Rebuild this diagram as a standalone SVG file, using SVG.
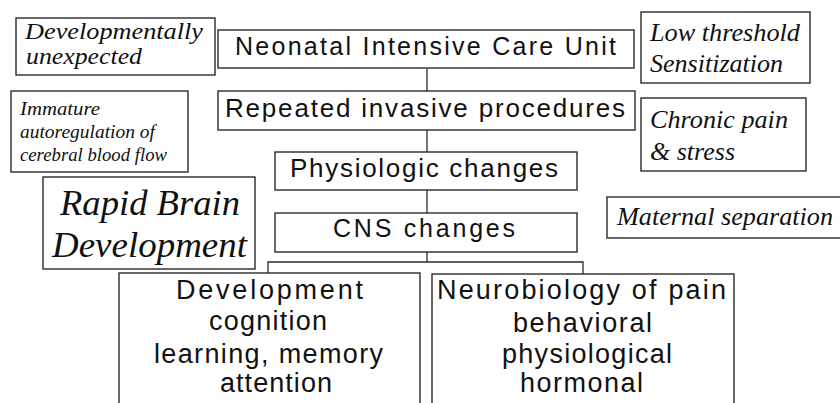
<svg xmlns="http://www.w3.org/2000/svg" width="840" height="403" viewBox="0 0 840 403">
<style>
rect{fill:#fff;stroke:#2a2a2a;stroke-width:1.4}
.s{font-family:"Liberation Sans",Arial,sans-serif;fill:#111}
.i{font-family:"Liberation Serif","Times New Roman",serif;font-style:italic;fill:#111}
.c{stroke:#2a2a2a;stroke-width:1.3;fill:none}
</style>
<rect width="840" height="403" style="fill:#fff;stroke:none"/>
<g id="connectors">
<line class="c" x1="427" y1="69" x2="427" y2="91"/>
<line class="c" x1="427" y1="130" x2="427" y2="152"/>
<line class="c" x1="427" y1="190" x2="427" y2="213"/>
<line class="c" x1="427" y1="252" x2="427" y2="262"/>
<polyline class="c" points="268,273 268,262 583,262 583,274"/>
</g>
<g id="n-dev-unexpected">
<rect x="16" y="18" width="199" height="57"/>
<text class="i" font-size="23" x="25" y="39" textLength="178" lengthAdjust="spacingAndGlyphs">Developmentally</text>
<text class="i" font-size="23" x="26" y="64" textLength="116" lengthAdjust="spacingAndGlyphs">unexpected</text>
</g>
<g id="n-nicu">
<rect x="218" y="30" width="416" height="38"/>
<text class="s" font-size="25" x="235" y="55" textLength="381" lengthAdjust="spacing">Neonatal Intensive Care Unit</text>
</g>
<g id="n-low-threshold">
<rect x="641" y="12" width="169" height="71"/>
<text class="i" font-size="26" x="650" y="41" textLength="150" lengthAdjust="spacingAndGlyphs">Low threshold</text>
<text class="i" font-size="26" x="650" y="72" textLength="133" lengthAdjust="spacingAndGlyphs">Sensitization</text>
</g>
<g id="n-immature">
<rect x="11" y="91" width="177" height="81"/>
<text class="i" font-size="19" x="20" y="115" textLength="80" lengthAdjust="spacingAndGlyphs">Immature</text>
<text class="i" font-size="19" x="20" y="138" textLength="135" lengthAdjust="spacingAndGlyphs">autoregulation of</text>
<text class="i" font-size="19" x="20" y="161" textLength="147" lengthAdjust="spacingAndGlyphs">cerebral blood flow</text>
</g>
<g id="n-repeated">
<rect x="218" y="91" width="417" height="39"/>
<text class="s" font-size="26" x="225" y="117" textLength="400" lengthAdjust="spacing">Repeated invasive procedures</text>
</g>
<g id="n-chronic">
<rect x="641" y="98" width="165" height="73"/>
<text class="i" font-size="26" x="650" y="128" textLength="138" lengthAdjust="spacingAndGlyphs">Chronic pain</text>
<text class="i" font-size="26" x="650" y="160" textLength="85" lengthAdjust="spacingAndGlyphs">&amp; stress</text>
</g>
<g id="n-physiologic">
<rect x="275" y="152" width="302" height="38"/>
<text class="s" font-size="26" x="290" y="177" textLength="268" lengthAdjust="spacing">Physiologic changes</text>
</g>
<g id="n-rapid-brain">
<rect x="43" y="177" width="212" height="92"/>
<text class="i" font-size="35" x="60" y="215" textLength="180" lengthAdjust="spacingAndGlyphs">Rapid Brain</text>
<text class="i" font-size="35" x="52" y="257" textLength="195" lengthAdjust="spacingAndGlyphs">Development</text>
</g>
<g id="n-cns">
<rect x="275" y="213" width="302" height="39"/>
<text class="s" font-size="25" x="333" y="237" textLength="182" lengthAdjust="spacing">CNS changes</text>
</g>
<g id="n-maternal">
<rect x="607" y="197" width="240" height="41"/>
<text class="i" font-size="26" x="617" y="225" textLength="216" lengthAdjust="spacingAndGlyphs">Maternal separation</text>
</g>
<g id="n-development">
<rect x="119" y="273" width="301" height="140"/>
<text class="s" font-size="27" x="176" y="299" textLength="187" lengthAdjust="spacing">Development</text>
<text class="s" font-size="27" x="209" y="330" textLength="118" lengthAdjust="spacing">cognition</text>
<text class="s" font-size="27" x="154" y="363" textLength="229" lengthAdjust="spacing">learning, memory</text>
<text class="s" font-size="27" x="220" y="392" textLength="112" lengthAdjust="spacing">attention</text>
</g>
<g id="n-neurobiology">
<rect x="432" y="274" width="302" height="140"/>
<text class="s" font-size="27" x="437" y="299" textLength="289" lengthAdjust="spacing">Neurobiology of pain</text>
<text class="s" font-size="27" x="513" y="332" textLength="139" lengthAdjust="spacing">behavioral</text>
<text class="s" font-size="27" x="502" y="363" textLength="170" lengthAdjust="spacing">physiological</text>
<text class="s" font-size="27" x="520" y="392" textLength="123" lengthAdjust="spacing">hormonal</text>
</g>
</svg>
